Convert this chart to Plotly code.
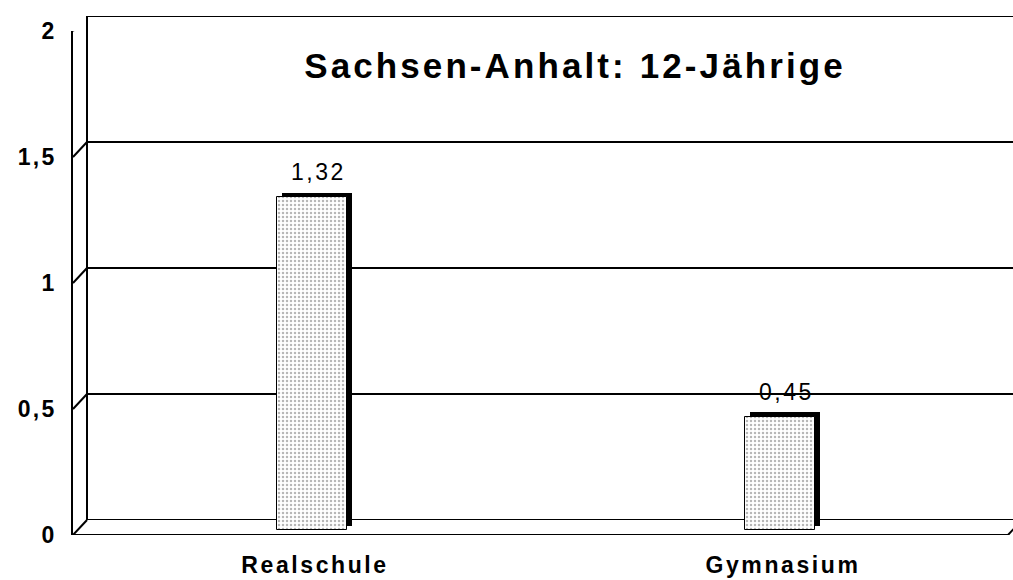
import plotly.graph_objects as go

# --- data ---------------------------------------------------------------
categories = ["Realschule", "Gymnasium"]
values = [1.32, 0.45]
tick_values = [0, 0.5, 1, 1.5, 2]
tick_labels = ["0", "0,5", "1", "1,5", "2"]
title_text = "Sachsen-Anhalt: 12-Jährige"

# --- geometry of the pseudo-3D frame (pixels) ---------------------------
W, H = 1013, 580
ML, MR, MT, MB = 73, 0, 16, 45
PW, PH = W - ML - MR, H - MT - MB          # plot area
DX, DY = 14, 15                            # depth offset of the back wall
FRONT_H = PH - DY                          # height of the front axis
Y_MAX = 2.0
PX_PER_UNIT = FRONT_H / Y_MAX
SLOT_PX = 468                              # distance between category centres
FIRST_CENTER = 312                         # pixel x of the first category
BAR_PX = 70
SHADOW_PX = 4.5
BAR_LIFT_PX = 5                            # bars stand in the middle of the floor

x_lo = -(FIRST_CENTER - ML) / SLOT_PX
x_hi = x_lo + PW / SLOT_PX
bar_w = BAR_PX / SLOT_PX
base = BAR_LIFT_PX / PX_PER_UNIT

FONT = "Arial, Liberation Sans, sans-serif"
EDGE = dict(color="black", width=2)


def spaced(text, px):
    return f'<span style="letter-spacing:{px}px">{text}</span>'


fig = go.Figure()

# dark side/top of each bar (drawn behind the face)
fig.add_trace(go.Bar(
    x=categories, y=values,
    base=base + SHADOW_PX / PX_PER_UNIT,
    width=bar_w, offset=-bar_w / 2 + SHADOW_PX / SLOT_PX,
    marker=dict(color="black", line=dict(width=0)),
    hoverinfo="skip", showlegend=False,
))

# dotted front face of each bar
fig.add_trace(go.Bar(
    x=categories, y=values,
    base=base,
    width=bar_w, offset=-bar_w / 2,
    marker=dict(
        color="white",
        line=dict(color="black", width=1),
        pattern=dict(shape=".", fgcolor="#6e6e6e", bgcolor="white",
                     size=4, solidity=0.3),
    ),
    showlegend=False,
))

# empty trace that carries the back-wall subplot
fig.add_trace(go.Scatter(x=[0], y=[0], xaxis="x2", yaxis="y2",
                         mode="markers", marker=dict(opacity=0),
                         hoverinfo="skip", showlegend=False))

# value labels above the bars
for cat, v in zip(categories, values):
    fig.add_annotation(
        x=cat, y=base + v, xref="x", yref="y",
        text=spaced(f"{v:.2f}".replace(".", ","), 2.5),
        showarrow=False, yanchor="bottom", xshift=6, yshift=10,
        font=dict(family=FONT, size=23, color="black"),
    )

shapes = []
# back wall: horizontal lines at every tick level plus its left edge
for v in tick_values:
    shapes.append(dict(type="line", xref="x2 domain", yref="y2",
                       x0=0, x1=1, y0=v, y1=v, line=EDGE))
shapes.append(dict(type="line", xref="x2 domain", yref="y2",
                   x0=0, x1=0, y0=0, y1=Y_MAX, line=EDGE))
# side-wall edges linking front axis levels with the back wall
for v in tick_values:
    shapes.append(dict(type="line", xref="paper", yref="y",
                       x0=0, x1=DX / PW, y0=v, y1=v + DY / PX_PER_UNIT,
                       line=EDGE))
# front edge of the floor and its right-hand depth edge
floor_end = (PW - 5) / PW
shapes.append(dict(type="line", xref="paper", yref="y",
                   x0=0, x1=floor_end, y0=0, y1=0, line=EDGE))
shapes.append(dict(type="line", xref="paper", yref="y",
                   x0=floor_end, x1=floor_end + DX / PW,
                   y0=0, y1=DY / PX_PER_UNIT, line=EDGE))
for s in shapes:
    s["layer"] = "below"

fig.update_layout(
    width=W, height=H,
    margin=dict(l=ML, r=MR, t=MT, b=MB, autoexpand=False),
    paper_bgcolor="white", plot_bgcolor="rgba(0,0,0,0)",
    separators=",.",
    bargap=0,
    shapes=shapes,
    font=dict(family=FONT, color="black"),
    title=dict(
        text="<b>" + spaced(title_text, 3.1) + "</b>",
        font=dict(family=FONT, size=35, color="black"),
        xref="container", yref="container",
        x=575 / W, y=1 - 66 / H, xanchor="center", yanchor="middle",
    ),
    xaxis=dict(
        domain=[0, 1], range=[x_lo, x_hi], anchor="y", automargin=False,
        tickmode="array", tickvals=categories,
        ticktext=["<b>" + spaced(c, 2.6) + "</b>" for c in categories],
        tickfont=dict(family=FONT, size=23, color="black"),
        ticks="outside", ticklen=9, tickcolor="rgba(0,0,0,0)",
        ticklabelshift=3,
        showline=False, showgrid=False, zeroline=False,
    ),
    yaxis=dict(
        domain=[0, FRONT_H / PH], range=[0, Y_MAX], anchor="x",
        automargin=False,
        tickmode="array", tickvals=tick_values,
        ticktext=["<b>" + spaced(t, 2.2) + "</b>" for t in tick_labels],
        tickfont=dict(family=FONT, size=23, color="black"),
        ticks="outside", ticklen=10, tickcolor="rgba(0,0,0,0)",
        showline=True, linecolor="black", linewidth=2,
        showgrid=False, zeroline=False,
    ),
    xaxis2=dict(
        domain=[DX / PW, 1], range=[0, 1], anchor="y2",
        visible=False, showgrid=False, zeroline=False,
    ),
    yaxis2=dict(
        domain=[DY / PH, 1], range=[0, Y_MAX], anchor="x2",
        visible=False, showgrid=False, zeroline=False,
    ),
)

fig.write_html("out.html")
